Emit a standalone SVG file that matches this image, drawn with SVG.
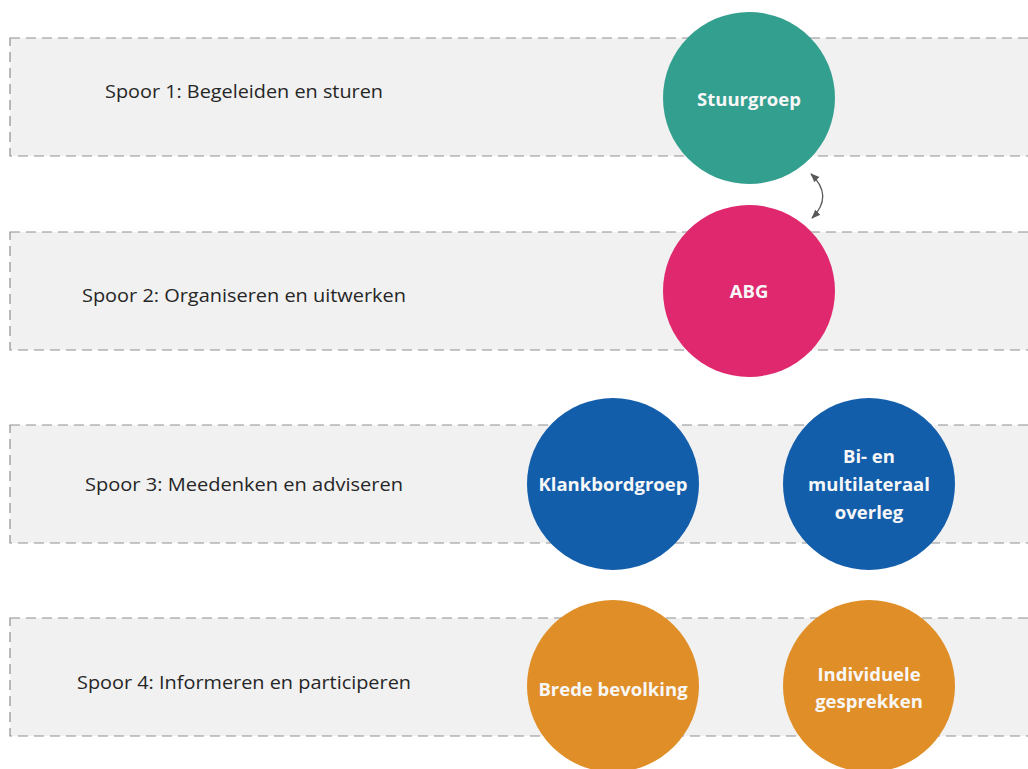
<svg xmlns="http://www.w3.org/2000/svg" width="1028" height="769" viewBox="0 0 1028 769">
<defs>
<style>
.band{fill:#f1f1f1;stroke:#8f8f8f;stroke-width:1.2;stroke-dasharray:10 6}
.lbl{font-family:"Open Sans","Noto Sans",sans-serif;font-size:19px;fill:#262626;text-anchor:middle}
.ct{font-family:"Open Sans","Noto Sans",sans-serif;font-size:18.5px;font-weight:bold;fill:#f7f7f7;text-anchor:middle}
.conn{fill:none;stroke:#595959;stroke-width:1.3}
</style>
<marker id="ah" viewBox="0 0 10 10" refX="9" refY="5" markerWidth="7" markerHeight="7" orient="auto-start-reverse">
<path d="M0,1 L10,5 L0,9 z" fill="#595959"/>
</marker>
</defs>
<rect width="1028" height="769" fill="#ffffff"/>
<g id="bands">
<rect class="band" x="10" y="38" width="1030" height="118"/>
<rect class="band" x="10" y="232" width="1030" height="118"/>
<rect class="band" x="10" y="425" width="1030" height="118"/>
<rect class="band" x="10" y="618" width="1030" height="118"/>
<text class="lbl" x="244" y="98" textLength="278" lengthAdjust="spacingAndGlyphs">Spoor 1: Begeleiden en sturen</text>
<text class="lbl" x="244" y="302" textLength="324" lengthAdjust="spacingAndGlyphs">Spoor 2: Organiseren en uitwerken</text>
<text class="lbl" x="244" y="491" textLength="318" lengthAdjust="spacingAndGlyphs">Spoor 3: Meedenken en adviseren</text>
<text class="lbl" x="244" y="689" textLength="334" lengthAdjust="spacingAndGlyphs">Spoor 4: Informeren en participeren</text>
</g>
<g id="connectors">
<path class="conn" d="M811,174 Q834,196 812,218" marker-start="url(#ah)" marker-end="url(#ah)"/>
</g>
<g id="stuurgroep">
<circle cx="749" cy="98" r="86" fill="#339F8E"/>
<text class="ct" x="749" y="106">Stuurgroep</text>
</g>
<g id="abg">
<circle cx="749" cy="291" r="86" fill="#E0286E"/>
<text class="ct" x="749" y="298">ABG</text>
</g>
<g id="klankbordgroep">
<circle cx="613" cy="484" r="86" fill="#135EAB"/>
<text class="ct" x="613" y="491">Klankbordgroep</text>
</g>
<g id="bilateraal">
<circle cx="869" cy="484" r="86" fill="#135EAB"/>
<text class="ct" x="869" y="463">Bi- en</text>
<text class="ct" x="869" y="491">multilateraal</text>
<text class="ct" x="869" y="519">overleg</text>
</g>
<g id="brede">
<circle cx="613" cy="686" r="86" fill="#E08E27"/>
<text class="ct" x="613" y="696">Brede bevolking</text>
</g>
<g id="individuele">
<circle cx="869" cy="686" r="86" fill="#E08E27"/>
<text class="ct" x="869" y="681">Individuele</text>
<text class="ct" x="869" y="708">gesprekken</text>
</g>
</svg>
